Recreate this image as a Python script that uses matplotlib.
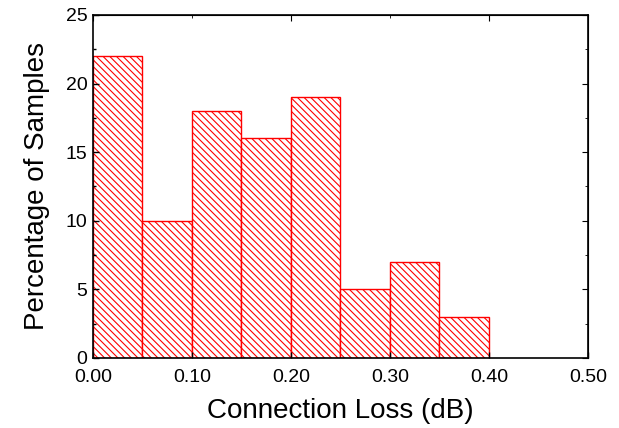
import matplotlib
matplotlib.use('Agg')
import matplotlib.pyplot as plt
import numpy as np

plt.rcParams['font.family'] = ['Liberation Sans', 'DejaVu Sans']
plt.rcParams['hatch.color'] = 'red'
plt.rcParams['hatch.linewidth'] = 0.8

bin_edges = [0.00, 0.05, 0.10, 0.15, 0.20, 0.25, 0.30, 0.35, 0.40]
percent = [22, 10, 18, 16, 19, 5, 7, 3]
x_ticks = [0.0, 0.1, 0.2, 0.3, 0.4, 0.5]
y_ticks = [0, 5, 10, 15, 20, 25]

fig = plt.figure(figsize=(6.19, 4.28), dpi=100)
ax = fig.add_axes([0.150, 0.164, 0.800, 0.801])

ax.bar(bin_edges[:-1], percent, width=0.05, align='edge',
       facecolor='white', edgecolor='red', hatch='\\' * 5, linewidth=1)

ax.set_xlim(0, 0.5)
ax.set_ylim(0, 25)
ax.set_xticks(x_ticks)
ax.set_xticklabels(['%.2f' % v for v in x_ticks])
ax.set_yticks(y_ticks)
ax.set_yticks(np.arange(2.5, 25, 5), minor=True)
ax.tick_params(which='both', direction='in', labelsize=14, top=False, right=False, pad=4)
ax.tick_params(axis='x', pad=8)
ax.tick_params(which='major', length=4.5, width=1)
ax.tick_params(which='minor', length=2.5, width=1)
for s in ax.spines.values():
    s.set_linewidth(1.2)

# top and right axes
top = ax.secondary_xaxis('top')
top.set_xticks([0.0, 0.2, 0.4])
top.set_xticks([0.1, 0.3, 0.5], minor=True)
top.tick_params(which='both', direction='in', labeltop=False)
top.tick_params(which='major', length=4.5)
top.tick_params(which='minor', length=2.5)
right = ax.secondary_yaxis('right')
right.set_yticks(y_ticks)
right.set_yticks(np.arange(2.5, 25, 5), minor=True)
right.tick_params(which='both', direction='in', labelright=False)
right.tick_params(which='major', length=4.5)
right.tick_params(which='minor', length=2.5)

ax.set_xlabel('Connection Loss (dB)', fontsize=20, labelpad=9)
ax.set_ylabel('Percentage of Samples', fontsize=20, labelpad=11)

plt.savefig('out.png', dpi=100)
